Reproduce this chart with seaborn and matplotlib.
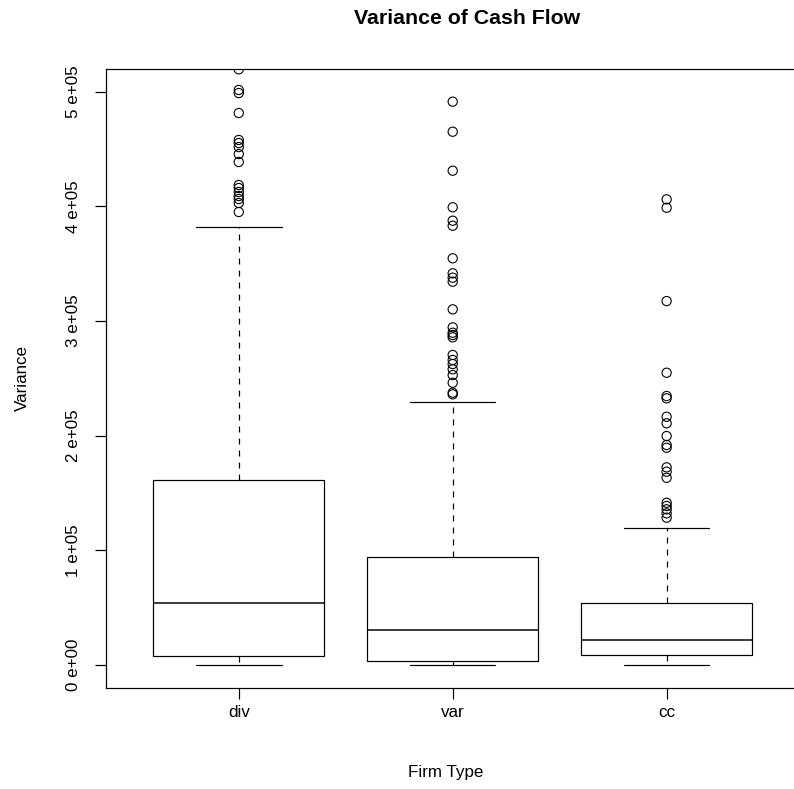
import matplotlib
matplotlib.use("Agg")
import matplotlib.pyplot as plt
import seaborn as sns
import pandas as pd

sns.set_theme(style="white")
plt.rcParams['font.family'] = ['Liberation Sans', 'DejaVu Sans']
plt.rcParams['text.color'] = 'black'
plt.rcParams['axes.labelcolor'] = 'black'

# ---- data ----
categories = ["div", "var", "cc"]
whisker_low = [0, 0, 0]
q1 = [8100, 3800, 8700]
median = [54100, 30500, 21800]
q3 = [161300, 94200, 54100]
whisker_high = [382000, 229400, 119200]

outliers_div = [519500, 501500, 498800, 481400, 457900, 455200, 451700, 445600,
                438700, 418600, 416000, 412500, 409000, 406400, 402900, 395100]
outliers_var = [491300, 465100, 431100, 399200, 387500, 383100, 354700, 341600,
                337800, 334300, 310200, 294500, 289800, 287800, 285800, 270400,
                266000, 262500, 257900, 252900, 246200, 237500, 236100]
outliers_cc = [406100, 398800, 317400, 254900, 234600, 232600, 216500, 210800,
               199700, 191900, 189500, 172400, 168600, 163300, 141500, 138700,
               135800, 132300, 128500]

yticks = [0, 100000, 200000, 300000, 400000, 500000]
ytick_labels = ["0 e+00", "1 e+05", "2 e+05", "3 e+05", "4 e+05", "5 e+05"]

title = "Variance of Cash Flow"
xlabel = "Firm Type"
ylabel = "Variance"

# ---- figure ----
W, H = 794, 789
fig = plt.figure(figsize=(W / 72, H / 72), dpi=72)
left_px, right_px, top_px, bottom_px = 105.7, 799.7, 69.0, 688.3
ax = fig.add_axes([left_px / W, 1 - bottom_px / H,
                   (right_px - left_px) / W, (bottom_px - top_px) / H])

stats = []
for i, c in enumerate(categories):
    stats.append(dict(label=c, whislo=whisker_low[i], q1=q1[i], med=median[i],
                      q3=q3[i], whishi=whisker_high[i], fliers=[]))

positions = list(range(1, len(categories) + 1))
lw = 1.2
ax.bxp(stats, positions=positions, widths=0.8, showfliers=False,
       boxprops=dict(color="black", linewidth=lw),
       medianprops=dict(color="black", linewidth=1.5),
       whiskerprops=dict(color="black", linewidth=lw, linestyle=(0, (5, 5))),
       capprops=dict(color="black", linewidth=lw),
       capwidths=0.4)

out_df = pd.DataFrame({
    "pos": [1] * len(outliers_div) + [2] * len(outliers_var) + [3] * len(outliers_cc),
    "value": outliers_div + outliers_var + outliers_cc,
})
sns.scatterplot(data=out_df, x="pos", y="value", ax=ax, marker="o", s=85,
                facecolor="none", edgecolor="black", linewidth=1.1, legend=False)

ax.set_xlim(0.378, 3.622)
ax.set_ylim(-20300, 519800)

ax.set_xticks(positions)
ax.set_xticklabels(categories)
ax.set_yticks(yticks)
ax.set_yticklabels(ytick_labels, rotation=90, va="center")

ax.tick_params(axis="both", which="both", direction="out", length=11, width=1.2,
               color="black", labelsize=17, labelcolor="black", bottom=True, left=True)
ax.tick_params(axis="x", pad=6)
ax.tick_params(axis="y", pad=14)

for sp in ax.spines.values():
    sp.set_visible(True)
    sp.set_color("black")
    sp.set_linewidth(1.2)

ax.set_xlabel("")
ax.set_ylabel("")
ax.grid(False)
ax.set_facecolor("white")

fig.text(446 / W, 1 - 773 / H, xlabel, ha="center", va="center", fontsize=17)
fig.text(22 / W, 1 - 378 / H, ylabel, ha="center", va="center", fontsize=17,
         rotation=90)
fig.text(467 / W, 1 - 19 / H, title, ha="center", va="center",
         fontsize=21.2, fontweight="bold")

fig.savefig("out.png", dpi=72, facecolor="white")
